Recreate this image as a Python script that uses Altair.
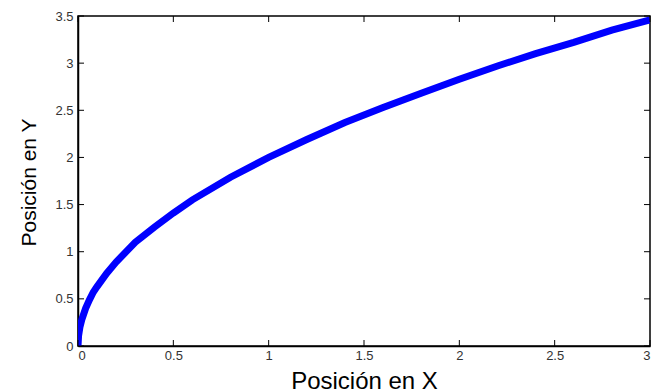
import altair as alt
import pandas as pd

xs = [0, 0.003, 0.01, 0.02, 0.04, 0.06, 0.08, 0.1, 0.15, 0.2, 0.3, 0.4, 0.5, 0.6,
      0.8, 1.0, 1.2, 1.4, 1.6, 1.8, 2.0, 2.2, 2.4, 2.6, 2.8, 3.0]
ys = [0, 0.11, 0.2, 0.28, 0.4, 0.49, 0.57, 0.63, 0.77, 0.89, 1.1, 1.26, 1.41, 1.55,
      1.79, 2.0, 2.19, 2.37, 2.53, 2.68, 2.83, 2.97, 3.1, 3.22, 3.35, 3.46]
xticks = [0, 0.5, 1, 1.5, 2, 2.5, 3]
yticks = [0, 0.5, 1, 1.5, 2, 2.5, 3, 3.5]

W, H = 572, 330
df = pd.DataFrame({"x": xs, "y": ys})
dx = pd.DataFrame({"t": xticks})
dy = pd.DataFrame({"t": yticks})

xscale = alt.Scale(domain=[0, 3], nice=False, zero=False)
yscale = alt.Scale(domain=[0, 3.5], nice=False, zero=False)

lab = dict(labelFont="Liberation Sans", labelFontSize=13, labelColor="#333",
           titleFont="Liberation Sans", titleFontWeight="normal", titleColor="black",
           titleBaseline="alphabetic",
           domainColor="black", domainWidth=1.5, ticks=False, grid=False, format="~g")

line = alt.Chart(df).mark_line(color="#0000ff", strokeWidth=7, clip=True).encode(
    x=alt.X("x:Q", scale=xscale,
            axis=alt.Axis(values=xticks, title="Posición en X", titleFontSize=24,
                          labelPadding=3, titleX=W / 2, titleY=42, **lab)),
    y=alt.Y("y:Q", scale=yscale,
            axis=alt.Axis(values=yticks, title="Posición en Y", titleFontSize=21,
                          labelPadding=5, titleX=-43, titleY=H / 2 + 1, **lab)),
)

tb = alt.Chart(dx).mark_rule(color="black", strokeWidth=1).encode(
    x=alt.X("t:Q", scale=xscale), y=alt.value(H), y2=alt.value(H - 6))
tt = alt.Chart(dx).mark_rule(color="black", strokeWidth=1).encode(
    x=alt.X("t:Q", scale=xscale), y=alt.value(0), y2=alt.value(6))
tl = alt.Chart(dy).mark_rule(color="black", strokeWidth=1).encode(
    y=alt.Y("t:Q", scale=yscale), x=alt.value(0), x2=alt.value(6))
tr = alt.Chart(dy).mark_rule(color="black", strokeWidth=1).encode(
    y=alt.Y("t:Q", scale=yscale), x=alt.value(W), x2=alt.value(W - 6))

chart = alt.layer(line, tb, tt, tl, tr).properties(
    width=W, height=H,
    autosize=alt.AutoSizeParams(type="none"),
    padding={"left": 70, "top": 8, "right": 6, "bottom": 46},
).configure_view(stroke="black", strokeWidth=1.5)

chart.save("out.html", embed_options={"renderer": "svg", "actions": False})
